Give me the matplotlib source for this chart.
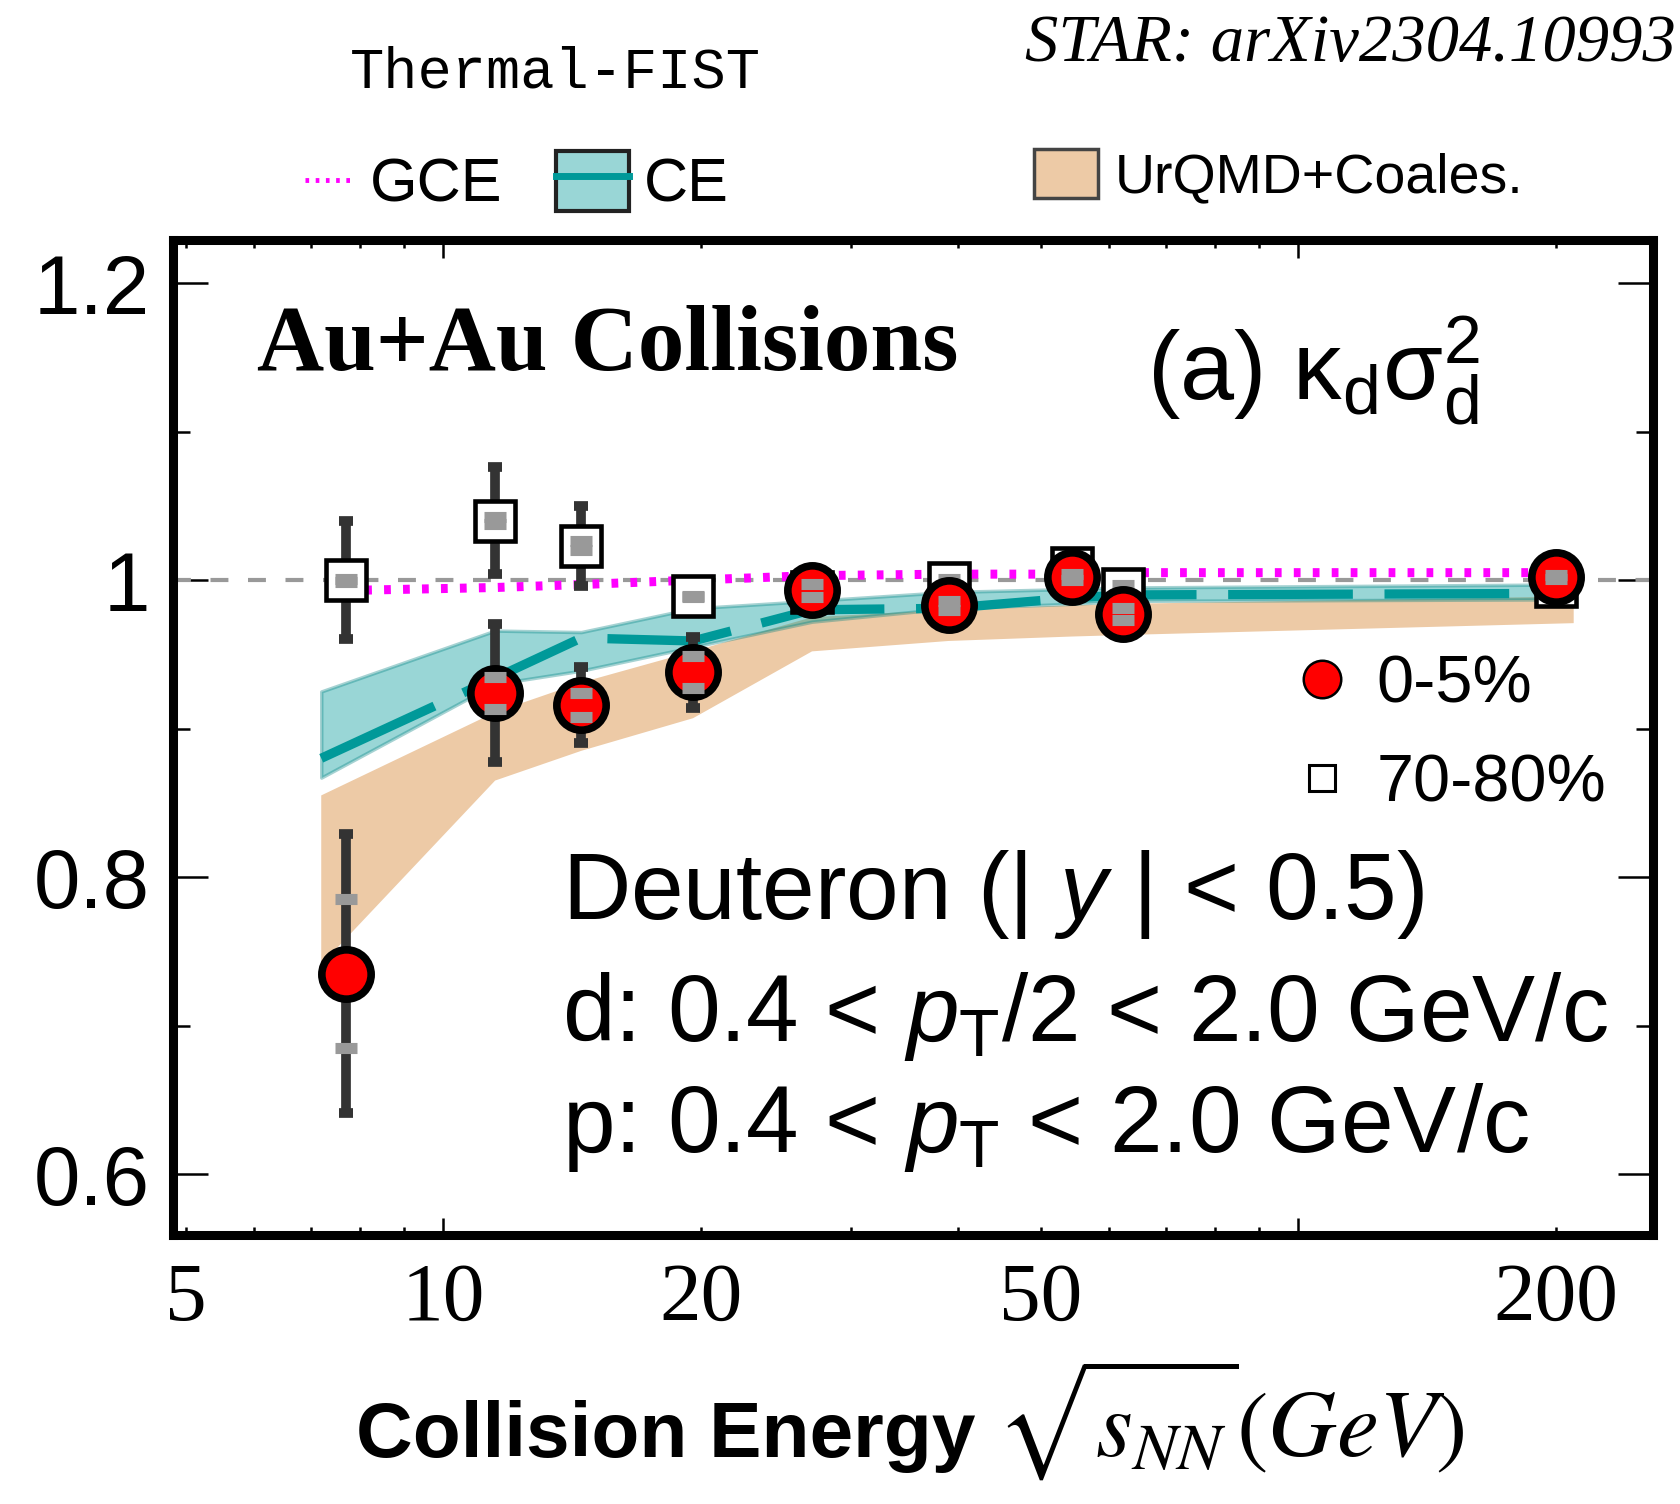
import matplotlib
matplotlib.use('Agg')
import matplotlib.pyplot as plt
import numpy as np
from matplotlib.lines import Line2D
from matplotlib.patches import Patch
from matplotlib.ticker import FixedLocator, LogLocator, MultipleLocator, FuncFormatter

plt.rcParams['font.family'] = ['Liberation Sans', 'DejaVu Sans']
plt.rcParams['mathtext.fontset'] = 'custom'
plt.rcParams['mathtext.rm'] = 'Liberation Sans'
plt.rcParams['mathtext.it'] = 'Liberation Sans:italic'
plt.rcParams['mathtext.bf'] = 'Liberation Sans:bold'

# Collision energies (GeV) of the measured points
energy = np.array([7.7, 11.5, 14.5, 19.6, 27, 39, 54.4, 62.4, 200])

# kappa_d sigma_d^2, 0-5% centrality
central = np.array([0.735, 0.924, 0.916, 0.938, 0.993, 0.983, 1.002, 0.977, 1.002])
central_stat = np.array([0.094, 0.0465, 0.0257, 0.024, 0.006, 0.006, 0.006, 0.013, 0.006])
central_sys = np.array([0.050, 0.011, 0.008, 0.0107, 0.0044, 0.003, 0.002, 0.004, 0.0013])

# kappa_d sigma_d^2, 70-80% centrality
periph = np.array([1.000, 1.040, 1.023, 0.989, 0.992, 0.998, 1.008, 0.994, 0.996])
periph_stat = np.array([0.040, 0.036, 0.027, 0.010, 0.010, 0.010, 0.010, 0.010, 0.010])
periph_sys = np.array([0.001, 0.0025, 0.003, 0.0005, 0.003, 0.003, 0.003, 0.003, 0.003])

# Thermal-FIST grand canonical ensemble
gce = np.array([0.993, 0.995, 0.997, 1.000, 1.003, 1.004, 1.004, 1.005, 1.005])

# Thermal-FIST canonical ensemble band
ce_energy = np.array([7.2, 11.5, 14.5, 19.6, 27, 39, 54.4, 62.4, 200])
ce_mid = np.array([0.880, 0.934, 0.961, 0.959, 0.980, 0.981, 0.988, 0.990, 0.991])
ce_hi = np.array([0.925, 0.966, 0.965, 0.981, 0.986, 0.992, 0.994, 0.995, 0.997])
ce_lo = np.array([0.867, 0.930, 0.939, 0.955, 0.972, 0.981, 0.984, 0.986, 0.987])

# UrQMD + coalescence band
urqmd_energy = np.array([7.2, 11.5, 14.5, 19.6, 27, 39, 54.4, 62.4, 210])
urqmd_hi = np.array([0.855, 0.911, 0.931, 0.952, 0.975, 0.980, 0.983, 0.984, 0.989])
urqmd_lo = np.array([0.741, 0.865, 0.885, 0.907, 0.952, 0.959, 0.962, 0.963, 0.971])

x_labelled = [5, 10, 20, 50, 200]
y_ticks = [0.6, 0.8, 1.0, 1.2]

W, H = 1680, 1504
fig = plt.figure(figsize=(W / 100, H / 100), dpi=100)
ax = fig.add_axes([173 / W, 1 - 1235 / H, (1653 - 173) / W, (1235 - 240) / H])
ax.set_xscale('log')
ax.set_xlim(4.83, 260)
ax.set_ylim(0.559, 1.229)

# model bands
ax.fill_between(urqmd_energy, urqmd_lo, urqmd_hi, facecolor='#EDCAA6',
                edgecolor='none', zorder=1)
ax.fill_between(ce_energy, ce_lo, ce_hi, facecolor=(0, 0.6, 0.6, 0.4),
                edgecolor=(0, 0.5, 0.5, 0.35), linewidth=2.5, zorder=2)
ax.plot(ce_energy, ce_mid, color='#009999', lw=6.7, dashes=(13.4, 3.4), zorder=3)

ax.axhline(1.0, color='#999999', lw=3, dashes=(4.3, 4.7), zorder=3)
ax.plot(energy, gce, color='#FF00FF', lw=6.5, dashes=(0.75, 1.35), zorder=4)

# statistical errors
err_kw = dict(fmt='none', ecolor='#333333', elinewidth=7, capsize=4.7, capthick=7)
ax.errorbar(energy, periph, yerr=periph_stat, zorder=5, **err_kw)
ax.errorbar(energy, central, yerr=central_stat, zorder=5, **err_kw)

# 70-80% points and systematic caps
ax.plot(energy, periph, 's', ms=29.5, mfc='white', mec='black', mew=3.3, zorder=6)
for sign in (1, -1):
    ax.plot(energy, periph + sign * periph_sys, '_', color='#999999',
            ms=16, mew=8, zorder=7)

# 0-5% points and systematic caps
ax.plot(energy, central, 'o', ms=35.5, mfc='red', mec='black', mew=5.5, zorder=8)
for sign in (1, -1):
    ax.plot(energy, central + sign * central_sys, '_', color='#999999',
            ms=16, mew=8, zorder=9)

# axes frame and ticks
for sp in ax.spines.values():
    sp.set_linewidth(6.5)
    sp.set_zorder(20)

ax.xaxis.set_major_locator(FixedLocator([10, 100]))
ax.xaxis.set_minor_locator(LogLocator(base=10, subs=np.arange(2, 10), numticks=20))
xfmt = FuncFormatter(lambda v, pos: str(int(round(v))) if int(round(v)) in x_labelled
                     and abs(v - round(v)) < 1e-6 else '')
ax.xaxis.set_major_formatter(xfmt)
ax.xaxis.set_minor_formatter(xfmt)

ax.yaxis.set_major_locator(FixedLocator(y_ticks))
ax.yaxis.set_minor_locator(MultipleLocator(0.1))
ax.yaxis.set_major_formatter(FuncFormatter(lambda v, pos: '%g' % v))

ax.tick_params(which='both', direction='in', top=True, right=True, width=1.8)
ax.tick_params(axis='x', which='major', length=12.6)
ax.tick_params(axis='x', which='minor', length=6)
ax.tick_params(axis='y', which='major', length=25)
ax.tick_params(axis='y', which='minor', length=12)
ax.tick_params(axis='x', which='both', labelsize=60, pad=20,
               labelfontfamily='Liberation Serif')
ax.tick_params(axis='y', which='both', labelsize=60, pad=16.5)

# x axis title: sans text followed by the energy symbol
ax.text(0.542, -0.223, 'Collision Energy', transform=ax.transAxes, ha='right',
        va='baseline', fontsize=56.5, fontweight='bold')
ax.text(0.556, -0.223, r'$\sqrt{s_{NN}}(GeV)$', transform=ax.transAxes, ha='left',
        va='baseline', fontsize=68, math_fontfamily='stix')

# annotations inside the frame
ax.text(0.057, 0.869, 'Au+Au Collisions', transform=ax.transAxes,
        family='Liberation Serif', weight='bold', fontsize=67, va='baseline')
ax.text(0.658, 0.840, r'(a) $\mathrm{\kappa_{d}\sigma_{d}^{2}}$', transform=ax.transAxes,
        fontsize=70, va='baseline')
ax.text(0.263, 0.318, r'Deuteron (| $y$ | < 0.5)', transform=ax.transAxes,
        fontsize=68, va='baseline')
ax.text(0.263, 0.195, r'd: 0.4 < $p_{\mathrm{T}}$/2 < 2.0 GeV/c', transform=ax.transAxes,
        fontsize=68, va='baseline')
ax.text(0.263, 0.083, r'p: 0.4 < $p_{\mathrm{T}}$ < 2.0 GeV/c', transform=ax.transAxes,
        fontsize=68, va='baseline')

# centrality legend
h_central = Line2D([], [], marker='o', ls='none', ms=27, mfc='red', mec='black', mew=1.8)
h_periph = Line2D([], [], marker='s', ls='none', ms=19, mfc='white', mec='black', mew=2.2)
ax.legend([h_central, h_periph], ['0-5%', '70-80%'], loc='center left',
          bbox_to_anchor=(1296 / W, 1 - 735 / H), bbox_transform=fig.transFigure,
          frameon=False, fontsize=48, handlelength=0.77, handletextpad=0.44,
          labelspacing=0.55, borderpad=0, borderaxespad=0)

# model legends above the frame
h_gce = Line2D([], [], color='#FF00FF', lw=3.5, dashes=(0.75, 1.35))
fig.legend([h_gce], ['GCE'], loc='center left', bbox_to_anchor=(305 / W, 1 - 186 / H),
           frameon=False, fontsize=44, handlelength=0.8, handletextpad=0.26,
           borderpad=0, borderaxespad=0)
h_ce_box = Patch(facecolor=(0, 0.6, 0.6, 0.4), edgecolor='#222222', lw=3)
h_ce_line = Line2D([], [], color='#009999', lw=5)
fig.legend([(h_ce_box, h_ce_line)], ['CE'], loc='center left',
           bbox_to_anchor=(556 / W, 1 - 183 / H), frameon=False, fontsize=44,
           handlelength=1.2, handleheight=1.13, handletextpad=0.23,
           borderpad=0, borderaxespad=0)
h_urqmd = Patch(facecolor='#EDCAA6', edgecolor='#444444', lw=2.5)
fig.legend([h_urqmd], ['UrQMD+Coales.'], loc='center left',
           bbox_to_anchor=(1034 / W, 1 - 177 / H), frameon=False, fontsize=40,
           handlelength=1.15, handleheight=0.97, handletextpad=0.3,
           borderpad=0, borderaxespad=0)

fig.text(555 / W, 1 - 73 / H, 'Thermal-FIST', ha='center', va='center',
         family='Liberation Mono', fontsize=41)
fig.text(1676 / W, 1 - 45 / H, 'STAR: arXiv2304.10993', ha='right', va='center',
         family='Liberation Serif', style='italic', fontsize=48)

fig.savefig('out.png', dpi=100)
